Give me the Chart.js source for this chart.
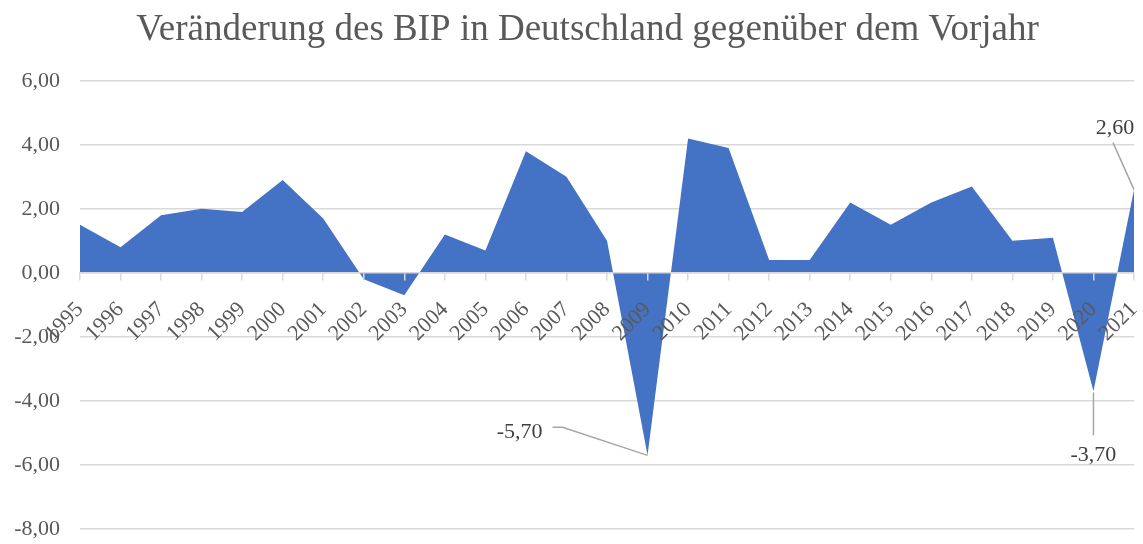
<!DOCTYPE html>
<html><head><meta charset="utf-8">
<script src="https://cdn.jsdelivr.net/npm/chart.js@4/dist/chart.umd.min.js"></script>
<style>html,body{margin:0;padding:0;background:#fff}#wrap{width:1143px;height:544px;position:relative}</style>
</head><body><div id="wrap"><canvas id="c" width="1143" height="544"></canvas></div>
<script>
const years = ['1995','1996','1997','1998','1999','2000','2001','2002','2003','2004','2005','2006','2007','2008','2009','2010','2011','2012','2013','2014','2015','2016','2017','2018','2019','2020','2021'];
const bipChange = [1.5,0.8,1.8,2.0,1.9,2.9,1.7,-0.2,-0.7,1.2,0.7,3.8,3.0,1.0,-5.7,4.2,3.9,0.4,0.4,2.2,1.5,2.2,2.7,1.0,1.1,-3.7,2.6];
const yMin = -8, yMax = 6, yStep = 2;
const chartTitle = 'Veränderung des BIP in Deutschland gegenüber dem Vorjahr';
const labeledYears = ['2009','2020','2021'];

const fmt = v => v.toFixed(2).replace('.', ',');
const SERIF = "'Liberation Serif', 'Times New Roman', serif";

// leader-label geometry relative to the data point (style, not data)
const leaderStyle = {
  '2009': {path: [[0,0],[-85,-28],[-95,-28]], text: [-128,-23], align: 'center'},
  '2020': {path: [[0,1],[0,44]], text: [0,64], align: 'center'},
  '2021': {path: [[0,0],[-21,-47]], text: [-19,-61], align: 'center'}
};

const leaderLabels = {
  id: 'leaderLabels',
  afterLayout(chart) {
    // centre the title over the y-axis-label + plot span, as in the reference
    if (chart.titleBlock) chart.titleBlock.left = 41;
  },
  afterDraw(chart) {
    const ctx = chart.ctx;
    const meta = chart.getDatasetMeta(0);
    ctx.save();
    labeledYears.forEach(y => {
      const i = years.indexOf(y);
      const pt = meta.data[i];
      const st = leaderStyle[y];
      ctx.strokeStyle = '#a6a6a6';
      ctx.lineWidth = 1.5;
      ctx.beginPath();
      st.path.forEach((p, k) => {
        const px = pt.x + p[0], py = pt.y + p[1];
        if (k === 0) ctx.moveTo(px, py); else ctx.lineTo(px, py);
      });
      ctx.stroke();
      ctx.fillStyle = '#404040';
      ctx.font = '22px ' + SERIF;
      ctx.textAlign = st.align;
      ctx.textBaseline = 'middle';
      ctx.fillText(fmt(bipChange[i]), pt.x + st.text[0], pt.y + st.text[1]);
    });
    ctx.restore();
  }
};

new Chart(document.getElementById('c'), {
  type: 'line',
  data: {
    labels: years,
    datasets: [{
      data: bipChange,
      fill: 'origin',
      backgroundColor: '#4472C4',
      borderColor: 'rgba(0,0,0,0)',
      borderWidth: 0,
      pointRadius: 0,
      tension: 0
    }]
  },
  options: {
    responsive: false,
    animation: false,
    layout: {padding: {left: 0, right: 9, top: 0, bottom: 15}},
    plugins: {
      legend: {display: false},
      tooltip: {enabled: false},
      title: {
        display: true,
        text: chartTitle,
        color: '#595959',
        font: {family: SERIF, size: 37, weight: 'normal'},
        padding: {top: 8, bottom: 28.4}
      }
    },
    scales: {
      x: {
        type: 'category',
        position: {y: 0},
        offset: false,
        grid: {display: true, drawOnChartArea: false, drawTicks: true, tickLength: 7, color: '#d9d9d9', lineWidth: 1.5, z: 1},
        border: {display: true, color: '#d9d9d9', width: 1.5, z: 1},
        ticks: {autoSkip: false, minRotation: 45, maxRotation: 45, color: '#595959', padding: 17, z: 1,
                font: {family: SERIF, size: 22}},
        afterFit: s => { s.height = 0; s.paddingLeft = 0; s.paddingRight = 0; s.paddingTop = 0; s.paddingBottom = 0; }
      },
      y: {
        min: yMin, max: yMax,
        grid: {color: '#d9d9d9', lineWidth: 1.5, drawTicks: false},
        border: {display: false},
        ticks: {stepSize: yStep, color: '#595959', padding: 20, font: {family: SERIF, size: 22},
                callback: v => fmt(v)},
        afterFit: s => { s.width = 80; s.paddingTop = 0; s.paddingBottom = 0; }
      }
    }
  },
  plugins: [leaderLabels]
});
</script>
</body></html>
